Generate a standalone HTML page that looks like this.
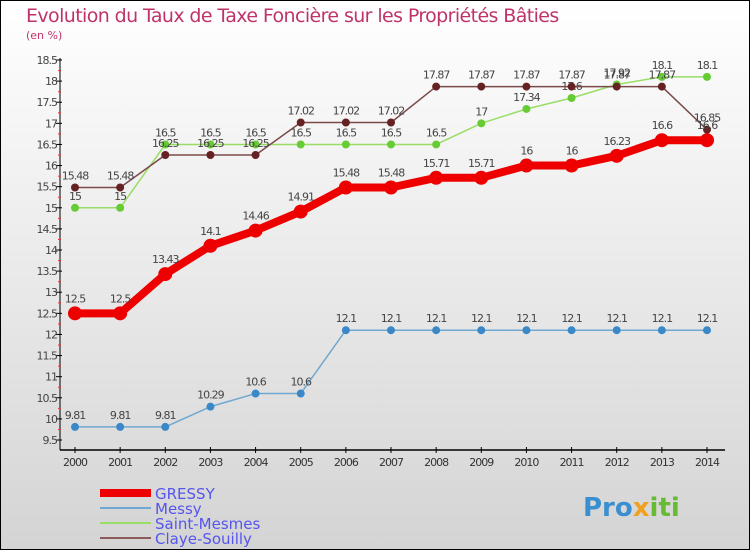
<!DOCTYPE html>
<html><head><meta charset="utf-8"><style>
body{margin:0;width:750px;height:550px;overflow:hidden;font-family:"DejaVu Sans","Liberation Sans",sans-serif}
svg text{font-family:"DejaVu Sans","Liberation Sans",sans-serif}
</style></head><body>
<svg id="chart" width="750" height="550">
<defs><linearGradient id="bg" x1="0" y1="0" x2="0" y2="1"><stop offset="0" stop-color="#ffffff"/><stop offset="1" stop-color="#d4d4d4"/></linearGradient></defs>
<rect x="0.5" y="0.5" width="749" height="549" fill="url(#bg)" stroke="#000"/>
<text x="26" y="22" font-size="19" fill="#c0336a" letter-spacing="-0.6">Evolution du Taux de Taxe Foncière sur les Propriétés Bâties</text>
<text x="26" y="39" font-size="11" fill="#c0336a">(en %)</text>
<g id="axes"></g><g id="series"></g>
<g>
<rect x="100" y="489" width="51" height="8" fill="#ee0000"/>
<rect x="100" y="507" width="51" height="2" fill="#6fa8d0"/>
<rect x="100" y="522" width="51" height="2" fill="#99dd66"/>
<rect x="100" y="537" width="51" height="2" fill="#8b5a5a"/>
<text x="155" y="499" font-size="15" fill="#5555ee">GRESSY</text>
<text x="155" y="514" font-size="15" fill="#5555ee">Messy</text>
<text x="155" y="529" font-size="15" fill="#5555ee">Saint-Mesmes</text>
<text x="155" y="544" font-size="15" fill="#5555ee">Claye-Souilly</text>
</g>
<text x="583" y="516" font-size="26" font-weight="bold" fill="#3a8fd0">Pro<tspan fill="#f0a020">x</tspan><tspan fill="#66bb33">iti</tspan></text>
</svg>
<script>
const years=[2000,2001,2002,2003,2004,2005,2006,2007,2008,2009,2010,2011,2012,2013,2014];
const gressy=[12.5,12.5,13.43,14.1,14.46,14.91,15.48,15.48,15.71,15.71,16,16,16.23,16.6,16.6];
const messy=[9.81,9.81,9.81,10.29,10.6,10.6,12.1,12.1,12.1,12.1,12.1,12.1,12.1,12.1,12.1];
const saintMesmes=[15,15,16.5,16.5,16.5,16.5,16.5,16.5,16.5,17,17.34,17.6,17.92,18.1,18.1];
const claye=[15.48,15.48,16.25,16.25,16.25,17.02,17.02,17.02,17.87,17.87,17.87,17.87,17.87,17.87,16.85];
const yTicks=[9.5,10,10.5,11,11.5,12,12.5,13,13.5,14,14.5,15,15.5,16,16.5,17,17.5,18,18.5];
const NS="http://www.w3.org/2000/svg";
const X=i=>75+i*(707-75)/14;
const Y=v=>60+(18.5-v)*(380/9);
function mk(t,a,p){const e=document.createElementNS(NS,t);for(const k in a)e.setAttribute(k,a[k]);p.appendChild(e);return e;}
const ax=document.getElementById('axes');
let l=mk('line',{x1:60,y1:58,x2:60,y2:450,stroke:'#000'},ax);


l=mk('line',{x1:60,y1:450,x2:725,y2:450,stroke:'#000','stroke-width':1.5},ax);


yTicks.forEach((v,i)=>{const y=Y(v);
 mk('line',{x1:56,y1:y,x2:62,y2:y,stroke:'#000'},ax);
 if(i<yTicks.length-1)mk('line',{x1:58,y1:y-10.5,x2:61,y2:y-10.5,stroke:'#e33'},ax);
 const t=mk('text',{x:57,y:y+4,'font-size':11,fill:'#444','text-anchor':'end','letter-spacing':'-1'},ax);t.textContent=String(v);
 
 });
years.forEach((yr,i)=>{const x=X(i);
 mk('line',{x1:x,y1:447,x2:x,y2:453,stroke:'#000'},ax);
 const t=mk('text',{x:x,y:466,'font-size':11,fill:'#333','text-anchor':'middle','letter-spacing':'-1'},ax);t.textContent=String(yr);
 
 });
const sg=document.getElementById('series');
function series(vals,color,dot,w,r,name){
 const g=mk('g',{},sg);
 
 
 mk('polyline',{points:vals.map((v,i)=>X(i)+','+Y(v)).join(' '),fill:'none',stroke:color,'stroke-width':w,'stroke-linejoin':'round'},g);
 vals.forEach((v,i)=>{const c=mk('circle',{cx:X(i),cy:Y(v),r:r,fill:dot},g);
  
  
  const t=mk('text',{x:X(i),y:Y(v)-r-4,'font-size':11,fill:'#444','text-anchor':'middle','letter-spacing':'-1'},g);t.textContent=String(v);
  
  });
}
series(messy,'#6fa8d0','#3a88c8',1.5,4,'series-messy');
series(saintMesmes,'#99dd66','#66cc33',1.5,4,'series-saint-mesmes');
series(claye,'#7a4a4a','#662222',1.5,4,'series-claye-souilly');
series(gressy,'#ee0000','#ee0000',8,7,'series-gressy');
</script>
</body></html>
